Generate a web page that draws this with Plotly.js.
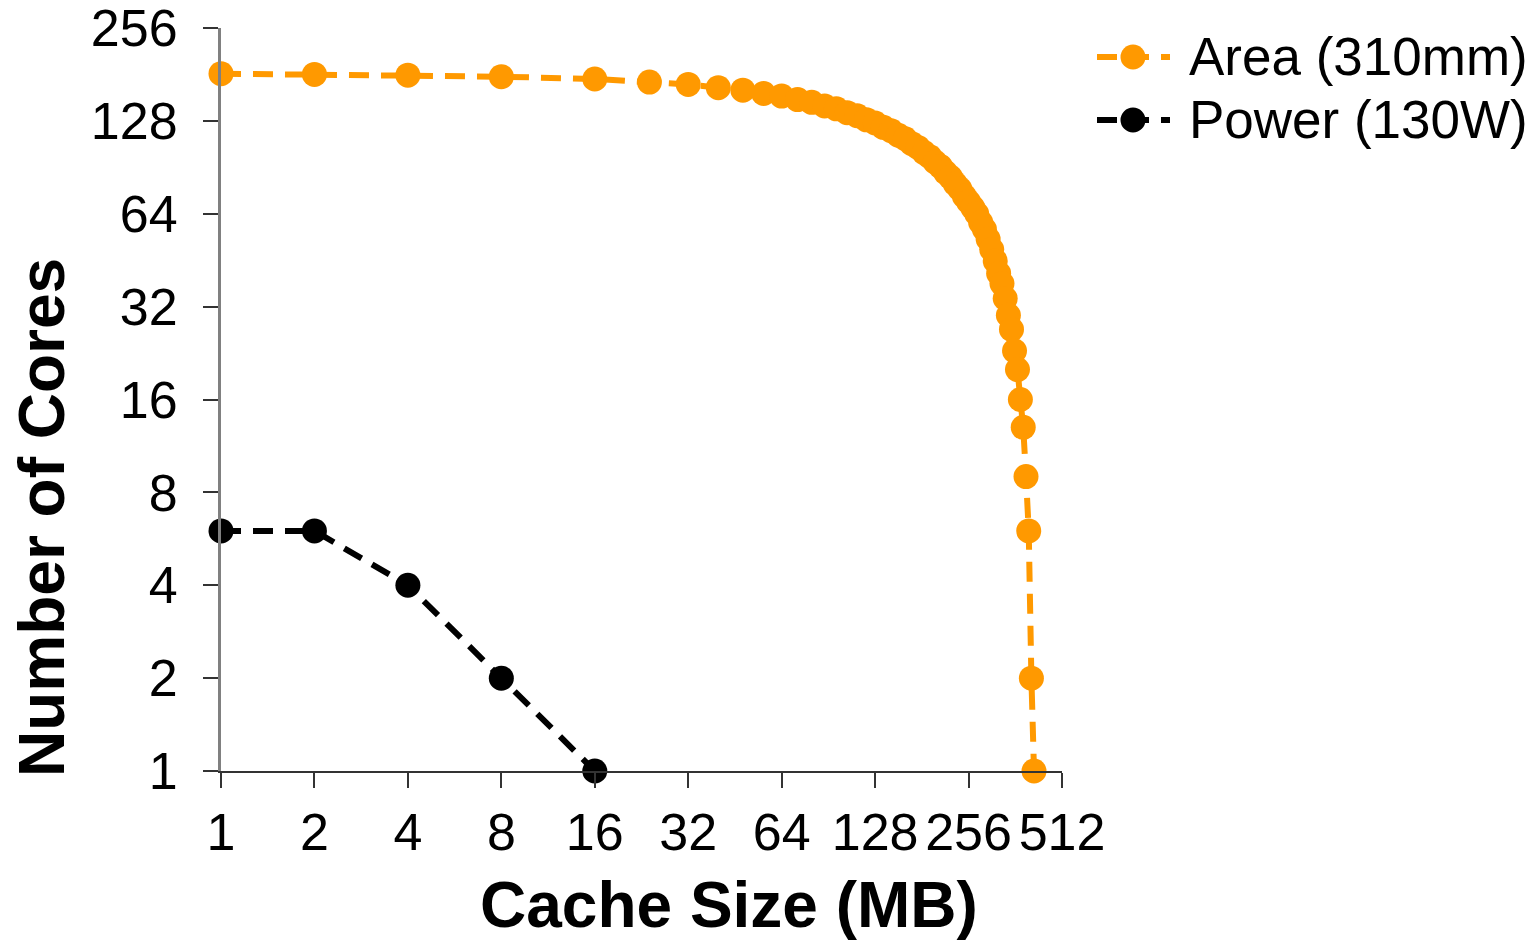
<!DOCTYPE html>
<html>
<head>
<meta charset="utf-8">
<script src="https://cdn.plot.ly/plotly-3.0.1.min.js"></script>
<style>
  html, body { margin: 0; padding: 0; background: #ffffff; }
  #chart { width: 1538px; height: 944px; }
</style>
</head>
<body>
<div id="chart"></div>
<script>
// Cache size (MB) for the area-limited design points
const areaCache = [1, 2, 4, 8, 16, 24, 32, 40, 48, 56, 64, 72, 80, 88, 96, 104, 112, 120, 128,
  136, 144, 152, 160, 168, 176, 184, 192, 200, 208, 216, 224, 232, 240, 248, 256,
  264, 272, 280, 288, 296, 304, 312, 320, 328, 336, 344, 352, 360, 368, 376, 384,
  392, 400, 408, 416];
// Number of cores that fit in 310mm
const areaCores = [182, 181, 180, 178, 175, 171, 168, 164, 161, 157, 154, 150, 147, 143, 140, 136, 133, 129, 126,
  122, 119, 115, 112, 108, 105, 101, 98, 94, 91, 87, 84, 80, 77, 73, 70,
  67, 64, 60, 57, 53, 49, 45, 41, 38, 34, 30, 27, 23, 20, 16, 13,
  9, 6, 2, 1];
// Power-limited design points (130W)
const powerCache = [1, 2, 4, 8, 16];
const powerCores = [6, 6, 4, 2, 1];

const tickVals = [1, 2, 4, 8, 16, 32, 64, 128, 256, 512];
const xTickText = ["1", "2", "4", "8", "16", "32", "64", "128", "256", "512"];
const yTickVals = [1, 2, 4, 8, 16, 32, 64, 128, 256];
const yTickText = ["1", "2", "4", "8", "16", "32", "64", "128", "256"];

const seriesNames = ["Area (310mm)", "Power (130W)"];
const seriesColors = ["#FF9900", "#000000"];
const xTitle = "Cache Size (MB)";
const yTitle = "Number of Cores";
const FONT = "Liberation Sans, Arial, Helvetica, sans-serif";

// plot-area geometry (pixels)
const W = 1538, H = 944;
const M = { l: 221, r: 476, t: 28, b: 173 };
const PW = W - M.l - M.r, PH = H - M.t - M.b;
const px = v => (v - M.l) / PW;          // page x -> paper x
const py = v => (H - M.b - v) / PH;      // page y -> paper y

const traces = [0, 1].map(i => ({
  x: i === 0 ? areaCache : powerCache,
  y: i === 0 ? areaCores : powerCores,
  name: seriesNames[i],
  type: "scatter", mode: "lines+markers", cliponaxis: false,
  line: { color: seriesColors[i], width: 6, dash: "20px,12px" },
  marker: { color: seriesColors[i], size: 25, symbol: "circle" }
}));

// hand-drawn legend (larger symbols than the built-in legend allows)
const shapes = [], annotations = [];
const legendRows = [57, 120];
seriesNames.forEach((nm, i) => {
  const yy = py(legendRows[i]);
  shapes.push({
    type: "line", xref: "paper", yref: "paper",
    x0: px(1097), x1: px(1170), y0: yy, y1: yy,
    line: { color: seriesColors[i], width: 6, dash: "20px,12px" }
  });
  shapes.push({
    type: "circle", xref: "paper", yref: "paper",
    xsizemode: "pixel", ysizemode: "pixel",
    xanchor: px(1133), yanchor: yy,
    x0: -12.5, x1: 12.5, y0: -12.5, y1: 12.5,
    fillcolor: seriesColors[i], line: { width: 0 }
  });
  annotations.push({
    xref: "paper", yref: "paper", x: px(1187), y: yy,
    xanchor: "left", yanchor: "middle", showarrow: false,
    text: nm, font: { family: FONT, size: 53, color: "#000000" }
  });
});
// axis titles (placed where the reference has them)
annotations.push({
  xref: "paper", yref: "paper", x: px(729), y: py(905),
  xanchor: "center", yanchor: "middle", showarrow: false,
  text: "<b>" + xTitle + "</b>", font: { family: FONT, size: 64, color: "#000000" }
});
annotations.push({
  xref: "paper", yref: "paper", x: px(42), y: py(518),
  xanchor: "center", yanchor: "middle", showarrow: false, textangle: -90,
  text: "<b>" + yTitle + "</b>", font: { family: FONT, size: 64, color: "#000000" }
});

const layout = {
  width: W, height: H,
  margin: { l: M.l, r: M.r, t: M.t, b: M.b, pad: 0 },
  paper_bgcolor: "#ffffff", plot_bgcolor: "#ffffff",
  font: { family: FONT, size: 52, color: "#000000" },
  showlegend: false,
  xaxis: {
    type: "log", range: [0, Math.log10(512) + 1e-6], autorange: false,
    tickmode: "array", tickvals: tickVals, ticktext: xTickText,
    ticks: "outside", ticklen: 15, tickwidth: 2, tickcolor: "#333333",
    showline: true, linecolor: "#333333", linewidth: 2,
    showgrid: false, zeroline: false, automargin: false,
    tickfont: { family: FONT, size: 52, color: "#000000" },
    ticklabelstandoff: 0
  },
  yaxis: {
    type: "log", range: [0, Math.log10(256) + 1e-6], autorange: false,
    tickmode: "array", tickvals: yTickVals, ticktext: yTickText,
    ticks: "outside", ticklen: 15, tickwidth: 2, tickcolor: "#333333",
    showline: true, linecolor: "#808080", linewidth: 3,
    showgrid: false, zeroline: false, automargin: false,
    tickfont: { family: FONT, size: 52, color: "#000000" },
    ticklabelstandoff: 15, ticklabeloverflow: "allow"
  },
  shapes: shapes,
  annotations: annotations
};

Plotly.newPlot("chart", traces, layout, { staticPlot: true, displayModeBar: false });
</script>
</body>
</html>
